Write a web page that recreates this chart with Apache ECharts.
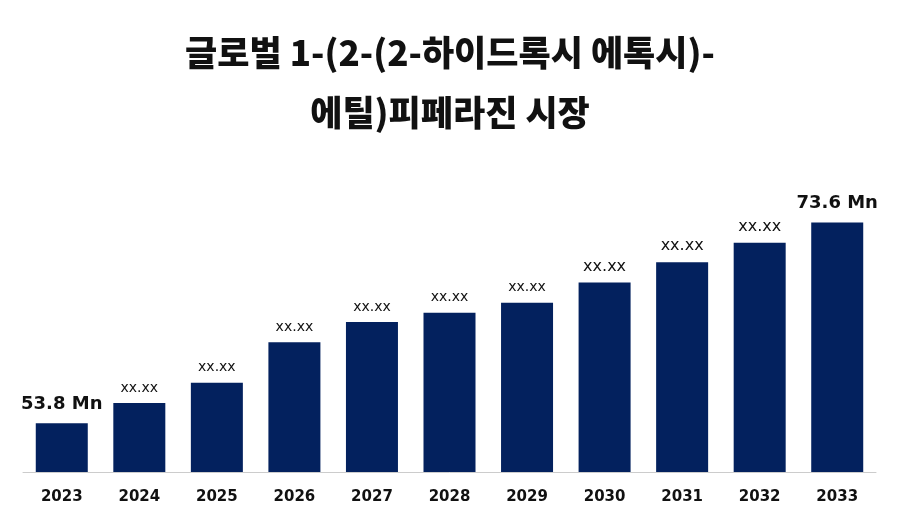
<!DOCTYPE html><html><head><meta charset="utf-8"><script src="https://cdn.jsdelivr.net/npm/echarts@6/dist/echarts.min.js"></script></head><body style="margin:0"><div id="c" style="width:900px;height:525px"></div><script>
const categories=['2023','2024','2025','2026','2027','2028','2029','2030','2031','2032','2033'];
const values=[53.8,55.8,57.8,61.8,63.8,64.7,65.7,67.7,69.7,71.6,73.6];
const labels=['53.8 Mn','xx.xx','xx.xx','xx.xx','xx.xx','xx.xx','xx.xx','xx.xx','xx.xx','xx.xx','73.6 Mn'];
const labelSizes=[18,14,14,14,14,14,14,16,16,16,18];
const c=echarts.init(document.getElementById('c'));
c.setOption({
title:{text:'글로벌 1-(2-(2-하이드록시 에톡시)-\n에틸)피페라진 시장',left:'center',top:18,textStyle:{fontFamily:'Noto Sans CJK KR',fontSize:35,fontWeight:900,color:'#111',lineHeight:60}},
grid:{left:23,right:24,top:180,bottom:53},
xAxis:{type:'category',data:categories,axisLine:{lineStyle:{color:'#ccc'}},axisTick:{show:false},axisLabel:{fontFamily:'DejaVu Sans',fontWeight:'bold',fontSize:15,color:'#111',margin:18}},
yAxis:{type:'value',min:49,max:77.8,show:false,splitLine:{show:false}},
series:[{type:'bar',barWidth:52,itemStyle:{color:'#03215e'},
data:values.map((v,i)=>({value:v,label:{show:true,position:'top',distance:i==0||i==10?10:8,formatter:labels[i],fontFamily:'DejaVu Sans',fontSize:labelSizes[i],fontWeight:(i==0||i==10)?'bold':'normal',color:'#111'}}))}]
});
</script></body></html>
